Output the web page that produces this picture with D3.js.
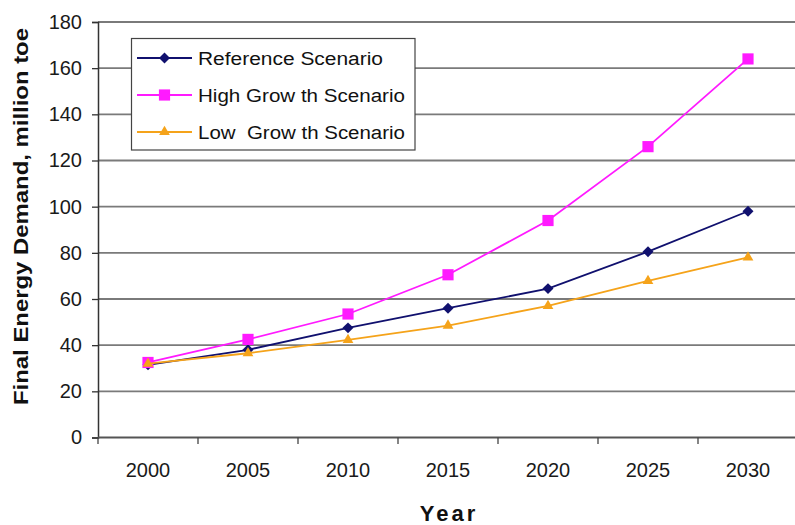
<!DOCTYPE html>
<html>
<head>
<meta charset="utf-8">
<script src="https://cdn.jsdelivr.net/npm/d3@7/dist/d3.min.js"></script>
<style>
  html, body { margin: 0; padding: 0; background: #fff; }
  svg { display: block; font-family: Arial, "Liberation Sans", sans-serif; }
</style>
</head>
<body>
<svg id="chart" width="795" height="525"></svg>
<script>
// Final energy demand projections (million toe)
const years = [2000, 2005, 2010, 2015, 2020, 2025, 2030];
const referenceScenario = [31.5, 38, 47.5, 56, 64.5, 80.5, 98];
const highGrowthScenario = [32.5, 42.5, 53.5, 70.5, 94, 126, 164];
const lowGrowthScenario = [32, 36.5, 42.3, 48.5, 57, 67.8, 78];
const yTicks = [0, 20, 40, 60, 80, 100, 120, 140, 160, 180];
const seriesNames = ["Reference Scenario", "High Grow th Scenario", "Low  Grow th Scenario"];

// diamonds are squares turned by 45 degrees
const series = [
  { name: seriesNames[0], values: referenceScenario, color: "#10106e", symbol: d3.symbolSquare, size: 60, rot: 45, legendLen: 185 },
  { name: seriesNames[1], values: highGrowthScenario, color: "#ff1aff", symbol: d3.symbolSquare, size: 125, rot: 0, legendLen: 207 },
  { name: seriesNames[2], values: lowGrowthScenario, color: "#f5a31a", symbol: d3.symbolTriangle, size: 50, rot: 0, legendLen: 207 }
];

const svg = d3.select("#chart");
const plotLeft = 98, plotRight = 798, plotTop = 22, plotBottom = 437.5;

const x = d3.scaleBand().domain(years).range([plotLeft, plotRight]);
const y = d3.scaleLinear().domain([0, 180]).range([plotBottom, plotTop]);
const cx = d => x(d) + x.bandwidth() / 2;

// horizontal gridlines
svg.append("g")
  .selectAll("line")
  .data(yTicks.filter(v => v > 0))
  .join("line")
  .attr("x1", plotLeft).attr("x2", 795)
  .attr("y1", d => y(d)).attr("y2", d => y(d))
  .attr("stroke", "#7a7a7a")
  .attr("stroke-width", 1.8);

// y axis
const yAxis = svg.append("g")
  .attr("transform", `translate(${plotLeft},0)`)
  .call(d3.axisLeft(y).tickValues(yTicks).tickSize(6).tickPadding(10));
yAxis.select(".domain").attr("stroke", "#333").attr("stroke-width", 1.5);
yAxis.selectAll(".tick line").attr("stroke", "#333").attr("stroke-width", 1.3);
yAxis.selectAll(".tick text")
  .attr("font-size", 20).attr("fill", "#1a1a1a")
  .attr("font-family", "Arial, 'Liberation Sans', sans-serif");

// x axis: ticks between categories, labels at category centres
const edges = years.map(d => x(d)).concat([x(years[years.length - 1]) + x.bandwidth()]);
const xg = svg.append("g");
xg.append("line")
  .attr("x1", plotLeft).attr("x2", 795)
  .attr("y1", plotBottom).attr("y2", plotBottom)
  .attr("stroke", "#555").attr("stroke-width", 2.2);
xg.selectAll("line.tick")
  .data(edges.filter(e => e < 795))
  .join("line")
  .attr("class", "tick")
  .attr("x1", d => d).attr("x2", d => d)
  .attr("y1", plotBottom).attr("y2", plotBottom + 6.5)
  .attr("stroke", "#444").attr("stroke-width", 1.3);
xg.selectAll("text")
  .data(years)
  .join("text")
  .attr("x", d => cx(d))
  .attr("y", 477)
  .attr("text-anchor", "middle")
  .attr("font-size", 20)
  .attr("fill", "#1a1a1a")
  .text(d => d);

// axis titles
svg.append("text")
  .attr("x", 449).attr("y", 520.5)
  .attr("text-anchor", "middle")
  .attr("font-size", 22).attr("font-weight", "bold")
  .attr("fill", "#111")
  .attr("letter-spacing", 3)
  .text("Year");

svg.append("text")
  .attr("transform", "translate(28,216.5) rotate(-90)")
  .attr("text-anchor", "middle")
  .attr("font-size", 20.5).attr("font-weight", "bold")
  .attr("fill", "#111")
  .attr("textLength", 377).attr("lengthAdjust", "spacingAndGlyphs")
  .text("Final Energy Demand, million toe");

// series lines and markers
const line = d3.line().x((d, i) => cx(years[i])).y(d => y(d));
series.forEach(s => {
  svg.append("path")
    .attr("d", line(s.values))
    .attr("fill", "none")
    .attr("stroke", s.color)
    .attr("stroke-width", 1.8);
  svg.append("g")
    .selectAll("path")
    .data(s.values)
    .join("path")
    .attr("transform", (d, i) => `translate(${cx(years[i])},${y(d)}) rotate(${s.rot})`)
    .attr("d", d3.symbol().type(s.symbol).size(s.size))
    .attr("fill", s.color);
});

// legend
const legend = svg.append("g");
legend.append("rect")
  .attr("x", 131.5).attr("y", 38.5)
  .attr("width", 283.5).attr("height", 111.5)
  .attr("fill", "#fff")
  .attr("stroke", "#444").attr("stroke-width", 1.2);
series.forEach((s, i) => {
  const ry = 58 + i * 37;
  legend.append("line")
    .attr("x1", 137).attr("x2", 192)
    .attr("y1", ry).attr("y2", ry)
    .attr("stroke", s.color).attr("stroke-width", 1.8);
  legend.append("path")
    .attr("transform", `translate(164.5,${ry}) rotate(${s.rot})`)
    .attr("d", d3.symbol().type(s.symbol).size(s.size))
    .attr("fill", s.color);
  legend.append("text")
    .attr("x", 198).attr("y", ry + 6.5)
    .attr("font-size", 18)
    .attr("fill", "#111")
    .style("white-space", "pre")
    .attr("textLength", s.legendLen).attr("lengthAdjust", "spacingAndGlyphs")
    .text(s.name);
});
</script>
</body>
</html>
